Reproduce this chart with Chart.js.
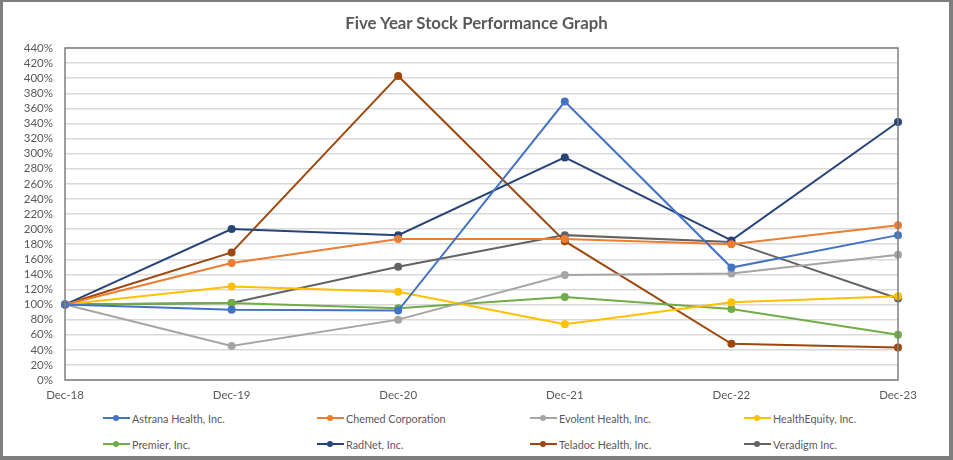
<!DOCTYPE html>
<html lang="en">

<head>
    <meta charset="UTF-8">
    <title>Five Year Stock Performance Graph</title>
    <script src="https://cdn.jsdelivr.net/npm/chart.js"></script>
    <style>
        body { margin: 0; background: #fff; }
        #frame {
            position: relative; width: 953px; height: 460px; box-sizing: border-box;
            border-style: solid; border-color: #7f7f7f;
            border-width: 2px 4px 4px 3px; overflow: hidden;
        }
        #chartBox { position: absolute; left: -3px; top: -2px; width: 953px; height: 410px; }
        #title {
            position: absolute; left: -3px; top: 10px; width: 953px; text-align: center;
            font: bold 16.8px Lato, "Open Sans", sans-serif; color: #595959;
        }
        .lg {
            position: absolute; font: 10.8px Lato, sans-serif; color: #595959;
            display: flex; align-items: center; white-space: nowrap; height: 14px;
        }
        .lg .mk { position: relative; width: 27px; height: 2px; margin-right: 2px; }
        .lg .mk i { position: absolute; left: 10px; top: -2px; width: 6px; height: 6px; border-radius: 50%; }
    </style>
</head>

<body>
    <div id="frame">
        <div id="chartBox"><canvas id="myChart"></canvas></div>
        <div id="title">Five Year Stock Performance Graph</div>
        <div id="legend"></div>
    </div>
    <script>
        // 資料
        const years = ['Dec-18', 'Dec-19', 'Dec-20', 'Dec-21', 'Dec-22', 'Dec-23'];
        const astrana = [100, 93, 92, 369, 149, 192];
        const chemed = [100, 155, 187, 187, 180, 205];
        const evolent = [100, 45, 80, 139, 141, 166];
        const healthEquity = [100, 124, 117, 74, 103, 111];
        const premier = [100, 102, 95, 110, 94, 60];
        const radnet = [100, 200, 192, 295, 185, 342];
        const teladoc = [100, 169, 403, 184, 48, 43];
        const veradigm = [100, 102, 150, 192, 183, 108];

        const series = [
            ['Astrana Health, Inc.', astrana, '#4472C4'],
            ['Chemed Corporation', chemed, '#ED7D31'],
            ['Evolent Health, Inc.', evolent, '#A5A5A5'],
            ['HealthEquity, Inc.', healthEquity, '#FFC000'],
            ['Premier, Inc.', premier, '#70AD47'],
            ['RadNet, Inc.', radnet, '#264478'],
            ['Teladoc Health, Inc.', teladoc, '#9E480E'],
            ['Veradigm Inc.', veradigm, '#636363']
        ];

        // 外框 plugin
        const plotBox = {
            id: 'plotBox',
            afterDraw(chart) {
                const a = chart.chartArea, c = chart.ctx;
                c.save();
                c.strokeStyle = '#7f7f7f';
                c.lineWidth = 1.5;
                c.strokeRect(a.left, a.top, a.right - a.left, a.bottom - a.top);
                c.restore();
            }
        };

        const ctx = document.getElementById('myChart');
        const mychart = new Chart(ctx, {
            type: 'line',
            data: {
                labels: years,
                datasets: series.map(s => ({
                    label: s[0],
                    data: s[1],
                    borderColor: s[2],
                    backgroundColor: s[2],
                    borderWidth: 2,
                    pointRadius: 4,
                    pointBorderWidth: 0,
                    tension: 0
                }))
            },
            options: {
                responsive: true,
                maintainAspectRatio: false,
                animation: false,
                layout: { padding: { left: 0, right: 55, top: 48, bottom: 0 } },
                plugins: { legend: { display: false }, tooltip: { enabled: false } },
                scales: {
                    x: {
                        offset: false,
                        grid: { display: false, drawTicks: false },
                        border: { display: false },
                        ticks: { color: '#595959', font: { family: 'Lato', size: 11.5 }, padding: 8, maxRotation: 0 },
                        afterFit: s => { s.height = 30; }
                    },
                    y: {
                        min: 0, max: 440,
                        grid: { color: '#d9d9d9', lineWidth: 1.5, drawTicks: false },
                        border: { display: false },
                        ticks: {
                            stepSize: 20, padding: 12, color: '#595959', autoSkip: false,
                            font: { family: 'Lato', size: 11.5 },
                            callback: v => v + '%'
                        },
                        afterFit: s => { s.width = 65; }
                    }
                }
            },
            plugins: [plotBox]
        });

        // 圖例
        const colX = [100, 314, 527, 741];
        const rowY = [409, 435];
        const lg = document.getElementById('legend');
        series.forEach(function (s, i) {
            const d = document.createElement('div');
            d.className = 'lg';
            d.style.left = colX[i % 4] + 'px';
            d.style.top = rowY[Math.floor(i / 4)] + 'px';
            d.innerHTML = '<span class="mk" style="background:' + s[2] + '"><i style="background:' + s[2] + '"></i></span>' + s[0];
            lg.appendChild(d);
        });
    </script>
</body>

</html>
